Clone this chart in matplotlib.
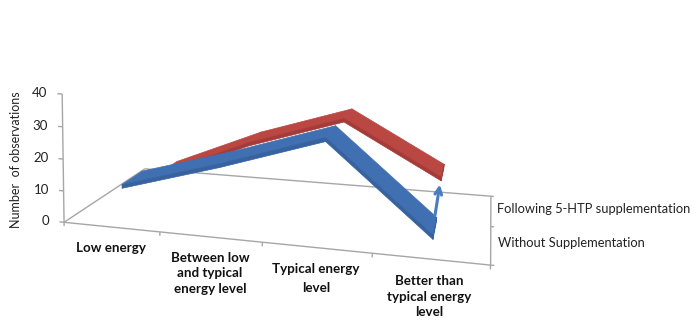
import numpy as np
import matplotlib
matplotlib.use('Agg')
import matplotlib.pyplot as plt
from matplotlib.patches import FancyArrowPatch
from matplotlib.transforms import IdentityTransform
from mpl_toolkits.mplot3d.art3d import Poly3DCollection

# ---------------- data ----------------
categories = ["Low energy",
              "Between low\nand typical\nenergy level",
              "Typical energy\nlevel",
              "Better than\ntypical energy\nlevel"]
series_names = ["Without Supplementation", "Following 5-HTP supplementation"]
without_supp = [11, 20, 30, 4]
following_supp = [6, 19, 29, 12]
value_ticks = [0, 10, 20, 30, 40]
value_label = "Number  of observations"

plt.rcParams['font.family'] = ['Lato', 'DejaVu Sans']

W, H = 700, 328
fig = plt.figure(figsize=(W / 100, H / 100), dpi=100)
fig.patch.set_facecolor('white')

# square 3D axes placed so the perspective matches the reference
side = 321.97
cx, cy = 129.15, 178.10
ax = fig.add_axes([(cx - side / 2) / W, (cy - side / 2) / H, side / W, side / H],
                  projection='3d', computed_zorder=False)
ax.set_xticks([]); ax.set_yticks([]); ax.set_zticks([])
for axis in (ax.xaxis, ax.yaxis, ax.zaxis):
    axis.label.set_visible(False)
    axis.offsetText.set_visible(False)
ax.set_axis_off()
ax.patch.set_visible(False)
ax.view_init(elev=11.71015, azim=-70.60879, roll=0)
ax.set_proj_type('persp', focal_length=np.exp(-0.55661))
ax.set_box_aspect((4.0, 2 * np.exp(0.22159), 40 * np.exp(-3.43563)))
xc, yc, zc = -0.95718, 3.84412, -6.98721
ax.set_xlim(xc - 2, xc + 2)
ax.set_ylim(yc - 1, yc + 1)
ax.set_zlim(zc - 20, zc + 20)

n = len(categories)
ns = len(series_names)
vmax = max(value_ticks)
gray = '#a6a6a6'


def gline(xs, ys, zs):
    ax.plot(xs, ys, zs, color=gray, lw=1.0, zorder=1, solid_capstyle='butt', clip_on=False)


# floor
gline([0, n], [0, 0], [0, 0])
gline([0, n], [ns, ns], [0, 0])
gline([0, 0], [0, ns], [0, 0])
gline([n, n], [0, ns], [0, 0])
# value axis
gline([0, 0], [0, 0], [0, vmax])
for v in value_ticks:
    gline([0, -0.05], [0, 0], [v, v])
for i in range(n + 1):
    gline([i, i], [0, 0], [0, -1.2])
for j in range(ns + 1):
    gline([n, n + 0.03], [j, j], [0, 0])

# ribbons
d = 0.25
t = 1.2


def ribbon(vals, yc_, top, sidec, z):
    polys, cols = [], []
    for i in range(len(vals) - 1):
        x0, x1 = i + 0.5, i + 1.5
        z0, z1 = vals[i], vals[i + 1]
        polys.append([(x0, yc_ - d, z0), (x1, yc_ - d, z1), (x1, yc_ + d, z1), (x0, yc_ + d, z0)])
        cols.append(top)
        polys.append([(x0, yc_ - d, z0), (x1, yc_ - d, z1), (x1, yc_ - d, z1 - t), (x0, yc_ - d, z0 - t)])
        cols.append(sidec)
    xe = len(vals) - 0.5
    ze = vals[-1]
    polys.append([(xe, yc_ - d, ze), (xe, yc_ + d, ze), (xe, yc_ + d, ze - t), (xe, yc_ - d, ze - t)])
    cols.append(sidec)
    pc = Poly3DCollection(polys, facecolors=cols, edgecolors=cols, linewidths=0.5, zorder=z)
    pc.set_clip_on(False)
    ax.add_collection3d(pc)


ribbon(following_supp, 1.5, '#bb4743', '#a53b38', 2)
ribbon(without_supp, 0.5, '#4070b2', '#36629f', 3)

# projection helper (3D data -> display pixels)
fig.canvas.draw()
M = ax.get_proj()


def to_px(x, y, z):
    v = M @ np.array([x, y, z, 1.0])
    return ax.transData.transform((v[0] / v[3], v[1] / v[3]))


def ftext(p, s, **kw):
    fig.text(p[0] / W, p[1] / H, s, **kw)


# text
for v in value_ticks:
    ftext(to_px(-0.16, 0, v), str(v), ha='right', va='center', fontsize=9.5, color='#222222')
for i, lab in enumerate(categories):
    ls = 1.7 if lab.count('\n') == 1 else 1.35
    ftext(to_px(i + 0.5, 0, -4.6), lab, ha='center', va='top', fontsize=9.6, fontweight='bold',
          linespacing=ls, color='#111111')
for j, name in enumerate(series_names):
    ftext(to_px(n + 0.06, j + 0.5, 0.6), name, ha='left', va='center', fontsize=9.3, color='#222222')

fig.text(16 / W, 1 - 160 / H, value_label, rotation=90, ha='center', va='center',
         fontsize=9, color='#222222')

# arrow from the "without" end to the "following" end
pb = to_px(n - 0.5, 0.5, without_supp[-1])
pr = to_px(n - 0.5, 1.5, following_supp[-1])
arrow = FancyArrowPatch(pb + np.array([0, 11]), pr + np.array([-3, -14]),
                        arrowstyle='->', mutation_scale=12, lw=2.2, color='#4a7cc0',
                        shrinkA=0, shrinkB=0, transform=IdentityTransform())
fig.add_artist(arrow)

fig.savefig('out.png', dpi=100)
